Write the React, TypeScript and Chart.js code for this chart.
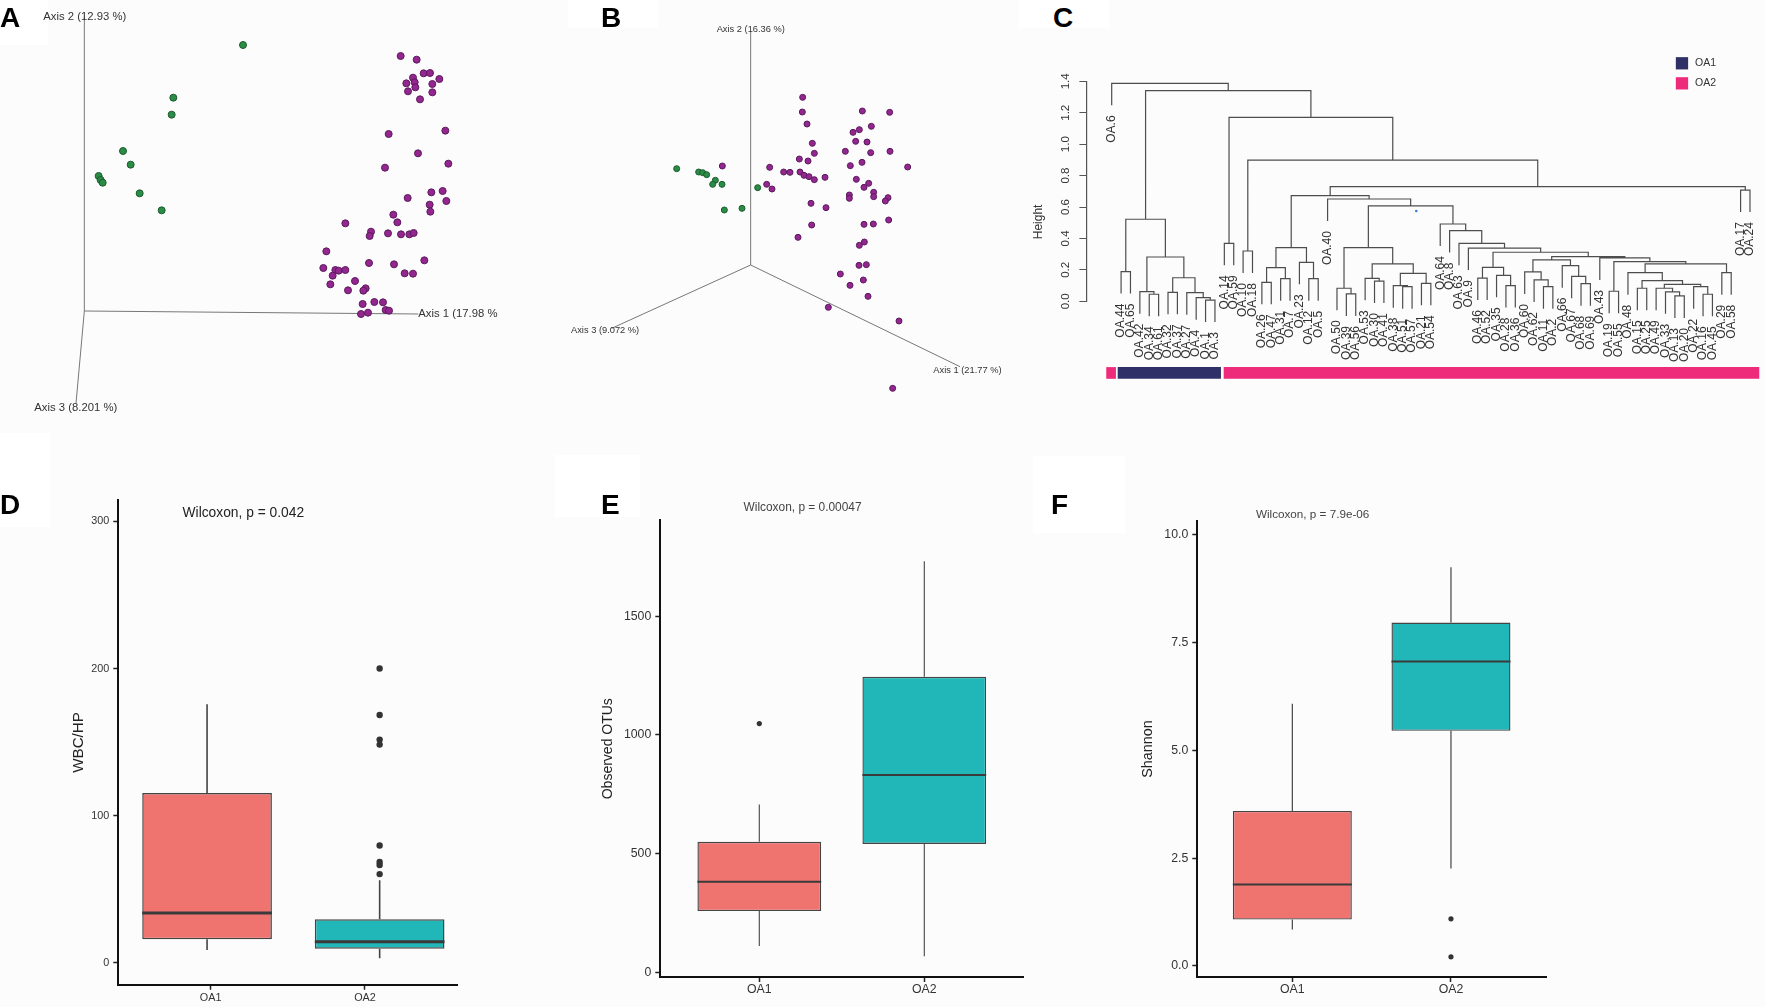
import React, { useEffect, useRef } from "react";
import { Chart, registerables } from "chart.js";

Chart.register(...registerables);

const FONT = '"Liberation Sans", Arial, sans-serif';
const PAGE_BG = "#fdfcfc";
const GREEN = "#2b8c46";
const GREEN_EDGE = "#1b5a2e";
const PURPLE = "#93278f";
const PURPLE_EDGE = "#5a1a5c";
const SALMON = "#ef7470";
const TEAL = "#21b7b8";
const NAVY = "#2f3067";
const PINK = "#ee2a7b";

/* ---------- Panel A: PCoA, plot units ---------- */
const aGreenX = [729, 520, 515, 369, 392, 296, 302, 308, 419, 485];
const aGreenY = [135, 293, 344, 453, 494, 528, 540, 548, 580, 631];
const aPurpleX = [1202, 1250, 1271, 1290, 1318, 1239, 1244, 1219, 1297, 1246, 1224, 1297, 1260, 1166, 1336, 1254, 1155, 1345, 1294, 1328, 1223, 1339, 1289, 1291, 1180, 1192, 1036, 1113, 1109, 1164, 1203, 1228, 1241, 979, 1107, 1182, 1273, 1214, 1239, 970, 1006, 1016, 1036, 998, 991, 1065, 1044, 1097, 1090, 1088, 1123, 1149, 1157, 1167, 1104, 1083];
const aPurpleY = [168, 179, 220, 219, 237, 233, 247, 250, 252, 262, 274, 277, 298, 402, 392, 460, 503, 491, 577, 573, 594, 603, 614, 635, 644, 667, 670, 695, 708, 700, 703, 703, 699, 754, 789, 793, 781, 820, 821, 804, 810, 812, 810, 827, 853, 843, 871, 865, 872, 912, 906, 907, 930, 932, 938, 942];
const aAxisX = [[253, 253], [253, 1255], [253, 228]];
const aAxisY = [[933, 50], [933, 942], [933, 1210]];
const aAxisLabels = ["Axis 2 (12.93 %)", "Axis 1 (17.98 %", "Axis 3 (8.201 %)"];
const aLabelX = [130, 1255, 103];
const aLabelY = [52, 942, 1224];

/* ---------- Panel B ---------- */
const bGreenX = [350, 416, 428, 440, 466, 458, 486, 593, 493, 546];
const bGreenY = [506, 516, 518, 524, 541, 553, 553, 563, 630, 625];
const bPurpleX = [487, 629, 671, 690, 720, 732, 747, 763, 795, 620, 636, 728, 727, 741, 757, 763, 718, 744, 907, 989, 934, 898, 879, 887, 921, 856, 932, 990, 906, 871, 1043, 889, 926, 912, 941, 941, 868, 868, 984, 976, 753, 798, 755, 912, 940, 986, 714, 913, 898, 897, 919, 841, 910, 870, 924, 805, 1017, 998];
const bPurpleY = [498, 502, 516, 517, 516, 526, 530, 539, 532, 553, 567, 292, 336, 372, 430, 460, 477, 483, 333, 337, 379, 389, 397, 424, 426, 454, 458, 454, 487, 497, 501, 538, 550, 562, 577, 590, 585, 595, 593, 603, 610, 623, 675, 673, 672, 660, 712, 726, 736, 796, 794, 822, 840, 856, 889, 922, 963, 1165];
const bAxisX = [[572, 572], [572, 1200], [572, 155]];
const bAxisY = [[795, 95], [795, 1100], [795, 985]];
const bAxisLabels = ["Axis 2 (16.36 %)", "Axis 1 (21.77 %)", "Axis 3 (9.072 %)"];
const bLabelX = [470, 1120, 33];
const bLabelY = [89, 1110, 991];

/* ---------- Panel C: dendrogram ---------- */
const leafLabels = ["OA.6", "OA.44", "OA.65", "OA.42", "OA.34", "OA.61", "OA.32", "OA.37", "OA.27", "OA.4", "OA.1", "OA.3", "OA.14", "OA.59", "OA.10", "OA.18", "OA.26", "OA.47", "OA.31", "OA.7", "OA.23", "OA.12", "OA.5", "OA.40", "OA.50", "OA.39", "OA.56", "OA.53", "OA.30", "OA.41", "OA.38", "OA.51", "OA.57", "OA.21", "OA.54", "OA.64", "OA.8", "OA.63", "OA.9", "OA.46", "OA.52", "OA.35", "OA.28", "OA.36", "OA.60", "OA.62", "OA.11", "OA.2", "OA.66", "OA.67", "OA.68", "OA.69", "OA.43", "OA.19", "OA.55", "OA.48", "OA.15", "OA.25", "OA.49", "OA.33", "OA.13", "OA.20", "OA.22", "OA.16", "OA.45", "OA.29", "OA.58", "OA.17", "OA.24"];
// [left, right, height]: a string is a leaf, a number is an earlier row
const merges: [string | number, string | number, number][] = [
  ["OA.44", "OA.65", 0.189], ["OA.34", "OA.61", 0.045], ["OA.42", 1, 0.0615], ["OA.32", "OA.37", 0.057],
  ["OA.1", "OA.3", 0.008], ["OA.4", 4, 0.023], ["OA.27", 5, 0.055], [3, 6, 0.15],
  [2, 7, 0.282], [0, 8, 0.522], ["OA.14", "OA.59", 0.369], ["OA.10", "OA.18", 0.32],
  ["OA.26", "OA.47", 0.121], ["OA.31", "OA.7", 0.144], [12, 13, 0.214], ["OA.12", "OA.5", 0.144],
  ["OA.23", 15, 0.248], [14, 16, 0.3415], ["OA.39", "OA.56", 0.047], ["OA.50", 18, 0.083],
  ["OA.30", "OA.41", 0.129], ["OA.53", 20, 0.146], ["OA.51", "OA.57", 0.093], ["OA.38", 22, 0.0997],
  ["OA.21", "OA.54", 0.1146], [23, 24, 0.178], [21, 25, 0.238], [19, 26, 0.3415],
  ["OA.46", "OA.52", 0.148], ["OA.28", "OA.36", 0.1], ["OA.35", 29, 0.165], [28, 30, 0.216],
  ["OA.11", "OA.2", 0.093], ["OA.62", 32, 0.136], ["OA.60", 33, 0.187], ["OA.68", "OA.69", 0.112],
  ["OA.67", 35, 0.159], ["OA.66", 36, 0.227], [34, 37, 0.263], ["OA.19", "OA.55", 0.064],
  ["OA.15", "OA.25", 0.083], ["OA.13", "OA.20", 0.034], ["OA.33", 41, 0.06], ["OA.49", 42, 0.083],
  ["OA.16", "OA.45", 0.045], ["OA.22", 44, 0.093], [43, 45, 0.108], [40, 46, 0.1315],
  ["OA.48", 47, 0.182], ["OA.29", "OA.58", 0.182], [48, 49, 0.238], [39, 50, 0.252],
  ["OA.43", 51, 0.276], [38, 52, 0.284], [31, 53, 0.312], ["OA.9", 54, 0.339],
  ["OA.63", 55, 0.369], ["OA.8", 56, 0.45], ["OA.64", 57, 0.492], [27, 58, 0.607],
  ["OA.40", 59, 0.651], [17, 60, 0.672], ["OA.17", "OA.24", 0.708], [61, 62, 0.73],
  [11, 63, 0.899], [10, 64, 1.171], [9, 65, 1.341], ["OA.6", 66, 1.387],
];
const leafHang = 0.14;
const heightTicks = [0, 0.2, 0.4, 0.6, 0.8, 1.0, 1.2, 1.4];
const stripStart = [-0.58, 0.64, 11.93];
const stripEnd = [0.45, 11.64, 68.99];
const stripColor = [PINK, NAVY, PINK];
const legendNames = ["OA1", "OA2"];
const legendColors = [NAVY, PINK];
const legendHeights = [1.5146, 1.387];

/* ---------- Panels D, E, F: box plots ---------- */
const groups = ["OA1", "OA2"];

const wbcCenters = [-0.023, 1.095];
const wbcQ1 = [16, 9.6];
const wbcMedian = [33.8, 14.4];
const wbcQ3 = [115.4, 29.7];
const wbcLow = [8.7, 3.2];
const wbcHigh = [175.7, 56.2];
const wbcOutliers = [[], [200, 168.4, 151.7, 148.3, 79.7, 68.5, 66.5, 60.3]];
const wbcTicks = [0, 100, 200, 300];
const wbcTickLabels = ["0", "100", "200", "300"];

const otuCenters = [0, 1];
const otuQ1 = [257.8, 541];
const otuMedian = [381, 831.4];
const otuQ3 = [549.6, 1245];
const otuLow = [110.5, 68];
const otuHigh = [706.8, 1732];
const otuOutliers = [[1048], []];
const otuTicks = [0, 500, 1000, 1500];
const otuTickLabels = ["0", "500", "1000", "1500"];

const shannonCenters = [0, 1];
const shannonQ1 = [1.076, 5.452];
const shannonMedian = [1.888, 7.06];
const shannonQ3 = [3.596, 7.964];
const shannonLow = [0.842, 2.262];
const shannonHigh = [6.08, 9.25];
const shannonOutliers = [[], [1.092, 0.21]];
const shannonTicks = [0, 2.5, 5, 7.5, 10];
const shannonTickLabels = ["0.0", "2.5", "5.0", "7.5", "10.0"];

type TextItem = { text: string; x: number; y: number; font: string; color?: string; align?: CanvasTextAlign; rotate?: number };

function textPlugin(items: TextItem[]) {
  return {
    id: "panelTexts",
    afterDraw(chart: any) {
      const { ctx, scales } = chart;
      ctx.save();
      for (const t of items) {
        ctx.save();
        ctx.translate(scales.x.getPixelForValue(t.x), scales.y.getPixelForValue(t.y));
        if (t.rotate) ctx.rotate(t.rotate);
        ctx.font = t.font;
        ctx.fillStyle = t.color || "#333";
        ctx.textAlign = t.align || "left";
        ctx.textBaseline = "middle";
        ctx.fillText(t.text, 0, 0);
        ctx.restore();
      }
      ctx.restore();
    },
  };
}

const basePlugins = { legend: { display: false }, tooltip: { enabled: false }, title: { display: false } };

function zip(xs: number[], ys: number[]) {
  return xs.map((x, i) => ({ x, y: ys[i] }));
}

function pcoaConfig(d: any) {
  const axisDatasets = d.axisX.map((xs: number[], i: number) => ({
    type: "line", data: zip(xs, d.axisY[i]), borderColor: "#777", borderWidth: 1, pointRadius: 0, order: 5, clip: false,
  }));
  return {
    type: "scatter",
    data: {
      datasets: [
        { data: zip(d.greenX, d.greenY), backgroundColor: GREEN, borderColor: GREEN_EDGE, borderWidth: 1, pointRadius: d.r, order: 1 },
        { data: zip(d.purpleX, d.purpleY), backgroundColor: PURPLE, borderColor: PURPLE_EDGE, borderWidth: 1, pointRadius: d.r, order: 1 },
        ...axisDatasets,
      ],
    },
    options: {
      responsive: false, animation: false, events: [],
      layout: { padding: 0, autoPadding: false },
      plugins: basePlugins,
      scales: {
        x: { type: "linear", display: false, min: 0, max: d.w },
        y: { type: "linear", display: false, min: 0, max: d.h, reverse: true },
      },
    },
    plugins: [textPlugin(d.labels.map((text: string, i: number) => ({ text, x: d.labelX[i], y: d.labelY[i], font: `${d.font}px ${FONT}`, color: "#333" })))],
  };
}

function dendroConfig() {
  const xOf: Record<string, number> = {};
  leafLabels.forEach((l, i) => (xOf[l] = i));
  const nodeX: number[] = [];
  const lines: { x: number; y: number | null }[] = [];
  const leafBottoms: TextItem[] = [];
  const side = (c: string | number, h: number) => {
    if (typeof c === "string") {
      const b = h - leafHang;
      return { x: xOf[c], y: b };
    }
    return { x: nodeX[c], y: merges[c][2] };
  };
  merges.forEach(([l, r, h], i) => {
    const a = side(l, h);
    const b = side(r, h);
    nodeX[i] = (a.x + b.x) / 2;
    lines.push({ x: a.x, y: a.y }, { x: a.x, y: h }, { x: b.x, y: h }, { x: b.x, y: b.y }, { x: b.x, y: null });
    for (const [c, s] of [[l, a], [r, b]] as any) {
      if (typeof c === "string") {
        leafBottoms.push({ text: c, x: s.x, y: s.y - 0.064, font: `12px ${FONT}`, color: "#333", align: "right", rotate: -Math.PI / 2 });
      }
    }
  });
  const strips = stripStart.map((s, i) => ({
    type: "line", data: [{ x: s, y: -0.456 }, { x: stripEnd[i], y: -0.456 }],
    borderColor: stripColor[i], borderWidth: 11.7, borderCapStyle: "butt", pointRadius: 0, clip: false,
  }));
  const swatches = legendHeights.map((y, i) => ({
    type: "line", data: [{ x: 60.1, y }, { x: 61.41, y }],
    borderColor: legendColors[i], borderWidth: 12.3, borderCapStyle: "butt", pointRadius: 0, clip: false,
  }));
  const texts: TextItem[] = [
    ...leafBottoms,
    { text: "Height", x: -7.82, y: 0.505, font: `12px ${FONT}`, color: "#333", align: "center", rotate: -Math.PI / 2 },
    ...legendNames.map((n, i) => ({ text: n, x: 62.15, y: legendHeights[i], font: `10.5px ${FONT}`, color: "#333" })),
  ];
  return {
    type: "line",
    data: {
      datasets: [
        { data: lines, borderColor: "#4d4d4d", borderWidth: 1.2, pointRadius: 0, tension: 0, spanGaps: false, clip: false },
        { type: "scatter", data: [{ x: 32.45, y: 0.575 }], backgroundColor: "#3a7bd5", borderWidth: 0, pointRadius: 1.3, clip: false },
        ...strips,
        ...swatches,
      ],
    },
    options: {
      responsive: false, animation: false, events: [],
      layout: { padding: { top: 41.3, bottom: 88.7, left: 0, right: 0 }, autoPadding: false },
      plugins: basePlugins,
      scales: {
        x: { type: "linear", display: false, min: -2.663, max: 69.6 },
        y: {
          type: "linear", min: 0, max: 1.4,
          afterFit: (s: any) => { s.width = 56.7; },
          afterBuildTicks: (s: any) => { s.ticks = heightTicks.map((value) => ({ value })); },
          grid: { drawOnChartArea: false, tickLength: 7.3, tickColor: "#555", tickWidth: 1 },
          border: { color: "#555", width: 1.2 },
          ticks: {
            autoSkip: false, minRotation: 90, maxRotation: 90, crossAlign: "center", padding: 5.7,
            font: { family: FONT, size: 11.5 }, color: "#333",
            callback: (v: number) => v.toFixed(1),
          },
        },
      },
    },
    plugins: [textPlugin(texts)],
  };
}

function boxConfig(p: any) {
  const half = p.barRatio / 2;
  const whisk: any[] = [];
  const medians: any[] = [];
  p.centers.forEach((c: number, i: number) => {
    whisk.push({ x: c, y: p.low[i] }, { x: c, y: p.q1[i] }, { x: c, y: null }, { x: c, y: p.q3[i] }, { x: c, y: p.high[i] }, { x: c, y: null });
    medians.push({ x: c - half, y: p.median[i] }, { x: c + half, y: p.median[i] }, { x: c, y: null });
  });
  const outliers: any[] = [];
  p.outliers.forEach((vals: number[], i: number) => vals.forEach((y) => outliers.push({ x: p.centers[i], y })));
  return {
    type: "bar",
    data: {
      datasets: [
        { type: "scatter", data: outliers, backgroundColor: "#333", borderWidth: 0, pointRadius: p.outlierR, order: 0 },
        { type: "line", data: medians, borderColor: "#3a3a3a", borderWidth: p.medianW, pointRadius: 0, spanGaps: false, order: 1 },
        {
          type: "bar",
          data: p.centers.map((x: number, i: number) => ({ x, y: [p.q1[i], p.q3[i]] })),
          backgroundColor: [SALMON, TEAL], borderColor: "#444", borderWidth: p.boxW, borderSkipped: false,
          barPercentage: p.barRatio, categoryPercentage: 1, order: 2,
        },
        { type: "line", data: whisk, borderColor: "#444", borderWidth: p.whiskerW, pointRadius: 0, spanGaps: false, order: 3 },
      ],
    },
    options: {
      responsive: false, animation: false, events: [],
      layout: { padding: { top: p.padTop, right: p.padRight, left: 0, bottom: 0 }, autoPadding: false },
      plugins: basePlugins,
      scales: {
        x: {
          type: "linear", min: p.xMin, max: p.xMax, offset: false,
          afterBuildTicks: (s: any) => { s.ticks = [{ value: 0 }, { value: 1 }]; },
          afterFit: (s: any) => { s.height = p.xHeight; },
          grid: { offset: false, drawOnChartArea: false, tickLength: 5, tickColor: "#222", tickWidth: 1.5 },
          border: { color: "#111", width: p.axisW },
          ticks: {
            autoSkip: false, maxRotation: 0, padding: p.xLabelPad,
            font: { family: FONT, size: p.tickFont }, color: "#333",
            callback: (v: number) => groups[v],
          },
        },
        y: {
          type: "linear", min: p.yMin, max: p.yMax,
          afterBuildTicks: (s: any) => { s.ticks = p.ticks.map((value: number) => ({ value })); },
          afterFit: (s: any) => { s.width = p.yWidth; },
          grid: { drawOnChartArea: false, tickLength: 5, tickColor: "#222", tickWidth: 1.5 },
          border: { color: "#111", width: p.axisW },
          ticks: {
            autoSkip: false, padding: 4,
            font: { family: FONT, size: p.tickFont }, color: "#333",
            callback: (v: number) => p.tickLabels[p.ticks.indexOf(v)],
          },
          title: {
            display: true, text: p.yTitle, color: "#222",
            font: { family: FONT, size: p.titleFont }, padding: { top: p.titlePad, bottom: 0 },
          },
        },
      },
    },
    plugins: [textPlugin([{ text: p.stat, x: p.statX, y: p.statY, font: `${p.statFont}px ${FONT}`, color: p.statColor, align: "center" }])],
  };
}

const panels = [
  {
    left: 0, top: 0, width: 520, height: 430,
    config: () => pcoaConfig({ w: 1560, h: 1290, r: 3.5, font: 11.3, greenX: aGreenX, greenY: aGreenY, purpleX: aPurpleX, purpleY: aPurpleY, axisX: aAxisX, axisY: aAxisY, labels: aAxisLabels, labelX: aLabelX, labelY: aLabelY }),
  },
  {
    left: 560, top: 0, width: 460, height: 410,
    config: () => pcoaConfig({ w: 1380, h: 1230, r: 3, font: 9.3, greenX: bGreenX, greenY: bGreenY, purpleX: bPurpleX, purpleY: bPurpleY, axisX: bAxisX, axisY: bAxisY, labels: bAxisLabels, labelX: bLabelX, labelY: bLabelY }),
  },
  { left: 1030, top: 40, width: 735, height: 350, config: dendroConfig },
  {
    left: 0, top: 480, width: 500, height: 527,
    config: () => boxConfig({
      centers: wbcCenters, q1: wbcQ1, median: wbcMedian, q3: wbcQ3, low: wbcLow, high: wbcHigh, outliers: wbcOutliers,
      ticks: wbcTicks, tickLabels: wbcTickLabels, yTitle: "WBC/HP", stat: "Wilcoxon, p = 0.042",
      statX: 0.212, statY: 305.5, statFont: 13.8, statColor: "#222", barRatio: 0.84,
      xMin: -0.598, xMax: 1.598, yMin: -14.85, yMax: 314.4,
      padTop: 20.2, padRight: 42.7, xHeight: 22.3, yWidth: 118.3, titlePad: 70, titleFont: 15.2, tickFont: 10.8, xLabelPad: 2,
      axisW: 2, boxW: 1.5, medianW: 3, whiskerW: 1.6, outlierR: 3.2,
    }),
  },
  {
    left: 560, top: 480, width: 500, height: 527,
    config: () => boxConfig({
      centers: otuCenters, q1: otuQ1, median: otuMedian, q3: otuQ3, low: otuLow, high: otuHigh, outliers: otuOutliers,
      ticks: otuTicks, tickLabels: otuTickLabels, yTitle: "Observed OTUs", stat: "Wilcoxon, p = 0.00047",
      statX: 0.262, statY: 1959, statFont: 11.9, statColor: "#444", barRatio: 0.75,
      xMin: -0.6, xMax: 1.6, yMin: -19.8, yMax: 1903.7,
      padTop: 40.4, padRight: 36.7, xHeight: 30, yWidth: 100.3, titlePad: 39.5, titleFont: 14, tickFont: 12.3, xLabelPad: 0,
      axisW: 2, boxW: 1.4, medianW: 2, whiskerW: 1.1, outlierR: 2.6,
    }),
  },
  {
    left: 1050, top: 480, width: 500, height: 527,
    config: () => boxConfig({
      centers: shannonCenters, q1: shannonQ1, median: shannonMedian, q3: shannonQ3, low: shannonLow, high: shannonHigh, outliers: shannonOutliers,
      ticks: shannonTicks, tickLabels: shannonTickLabels, yTitle: "Shannon", stat: "Wilcoxon, p = 7.9e-06",
      statX: 0.128, statY: 10.47, statFont: 11.7, statColor: "#444", barRatio: 0.75,
      xMin: -0.599, xMax: 1.599, yMin: -0.257, yMax: 10.32,
      padTop: 41, padRight: 4, xHeight: 30, yWidth: 147.3, titlePad: 89, titleFont: 14.4, tickFont: 12.3, xLabelPad: 0,
      axisW: 2, boxW: 1.4, medianW: 2, whiskerW: 1.2, outlierR: 2.6,
    }),
  },
];

const letters = [
  { text: "A", left: 0, baseline: 28 },
  { text: "B", left: 601, baseline: 28 },
  { text: "C", left: 1053, baseline: 28 },
  { text: "D", left: 0, baseline: 515 },
  { text: "E", left: 601, baseline: 514.5 },
  { text: "F", left: 1051, baseline: 515 },
];

// faint white patches that sit behind the panel letters in the figure
const patchLeft = [0, 568, 1019, 0, 555, 1033];
const patchTop = [0, 0, 0, 433, 455, 456];
const patchWidth = [48, 90, 90, 50, 85, 92];
const patchHeight = [45, 28, 28, 94, 62, 77];

function Panel({ left, top, width, height, config }: any) {
  const ref = useRef<HTMLCanvasElement | null>(null);
  useEffect(() => {
    const chart = new Chart(ref.current as any, config());
    return () => chart.destroy();
  }, []);
  return <canvas ref={ref} width={width} height={height} style={{ position: "absolute", left, top, width, height }} />;
}

export default function App() {
  useEffect(() => {
    document.body.style.margin = "0";
    document.body.style.background = PAGE_BG;
  }, []);
  return (
    <div style={{ position: "relative", width: 1765, height: 1007, overflow: "hidden", background: PAGE_BG }}>
      {patchLeft.map((l, i) => (
        <div key={i} style={{ position: "absolute", left: l, top: patchTop[i], width: patchWidth[i], height: patchHeight[i], background: "#fff" }} />
      ))}
      {panels.map((p, i) => (
        <Panel key={i} {...p} />
      ))}
      {letters.map((l) => (
        <div key={l.text} style={{ position: "absolute", left: l.left, top: l.baseline - 23.7, font: `bold 28px/28px ${FONT}`, color: "#000" }}>
          {l.text}
        </div>
      ))}
    </div>
  );
}
